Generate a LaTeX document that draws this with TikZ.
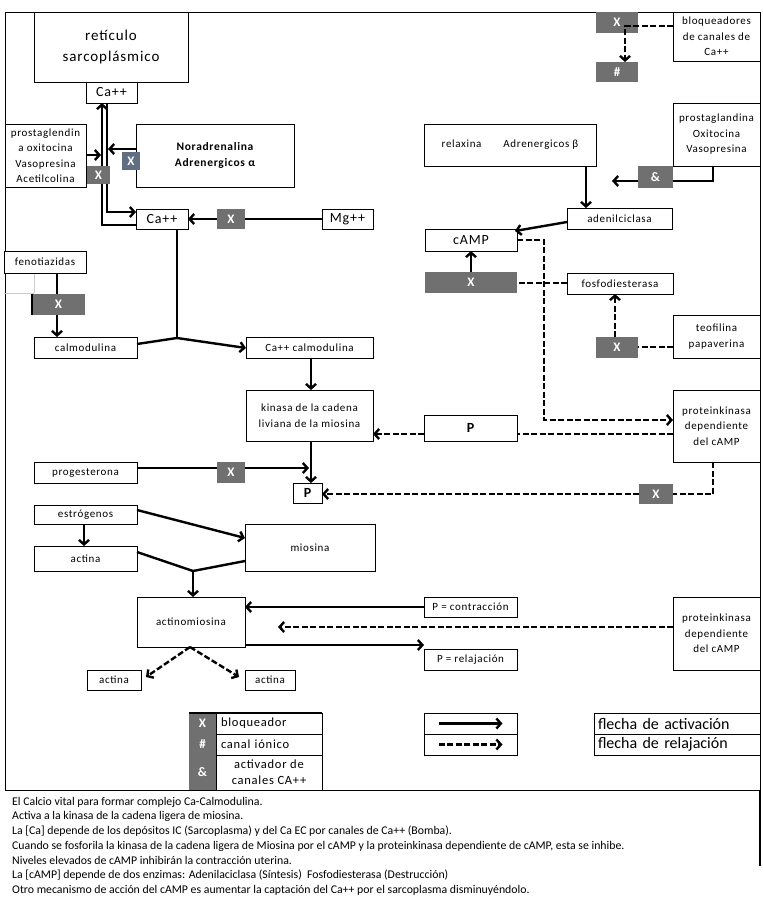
\documentclass[tikz,border=0pt]{standalone}
\usepackage{fontspec}
\setmainfont{Carlito}[LetterSpace=6]
\newfontfamily\plainf{Carlito}
\usetikzlibrary{arrows.meta}
\definecolor{gboxc}{RGB}{112,112,112}
\definecolor{sboxc}{RGB}{96,110,130}
\newcommand\lbl{\fontsize{11}{15.5}\selectfont}
\newcommand\lblL{\fontsize{14}{16}\selectfont}
\tikzset{
  box/.style={draw, line width=0.8pt, fill=white, inner sep=0pt, outer sep=0pt, align=center, font=\lbl},
  gb/.style={fill=gboxc, draw=none, text=white, font=\fontsize{13}{14}\selectfont\bfseries},
  act/.style={line width=2.4pt, -{Straight Barb[length=4.5pt,width=10pt]}},
  ln/.style={line width=2.4pt},
  rel/.style={act, dash pattern=on 6pt off 2.5pt},
  reln/.style={ln, dash pattern=on 6pt off 2.5pt},
  frame/.style={line width=0.9pt},
  btxt/.style={anchor=west, inner sep=0pt, font=\plainf\fontsize{11.8}{13}\selectfont},
}
\newcommand\bx[7][]{\node[box,#1,minimum width={(#4-#2)*1pt},minimum height={(#5-#3)*1pt}] (#6) at ({(#2+#4)/2},{(#3+#5)/2}) {#7};}
\begin{document}
\begin{tikzpicture}[x=1pt,y=-1pt]
\useasboundingbox (0,0) rectangle (763,900);
\fill[white] (0,0) rectangle (763,900);
% frame
\draw[frame] (5,12) rectangle (760,790);
\draw[line width=1.6pt] (760,790) -- (760,866);
\draw[black!20, line width=0.6pt] (34,273) -- (34,293) (4,293) -- (34,293);

% ---- nodes
\bx[font=\fontsize{15}{21}\selectfont]{34}{12}{188}{82}{ret}{retículo\\sarcoplásmico}
\bx[font=\lblL]{86}{82}{137}{103}{caA}{Ca++}
\bx{5}{124}{86}{187}{prosL}{prostaglendin\\a oxitocina\\Vasopresina\\Acetilcolina}
\bx[font=\fontsize{11.5}{16.5}\selectfont\bfseries]{136}{124}{294}{187}{nor}{Noradrenalina\\Adrenergicos α}
\bx[gb,fill=sboxc]{122}{152}{140}{170}{xNor}{X}
\bx[font=\lblL]{136}{209}{188}{229}{caB}{Ca++}
\bx[gb]{217}{209}{245}{229}{xMg}{X}
\bx[font=\lblL]{322}{209}{373}{229}{mg}{Mg++}

\bx[gb]{596}{12}{638}{33}{xBl}{X}
\bx[gb]{596}{62}{638}{82}{hash}{\#}
\bx{673}{12}{760}{61}{bloq}{bloqueadores\\de canales de\\Ca++}
\bx{673}{103}{760}{166}{prosR}{prostaglandina\\Oxitocina\\Vasopresina}
\bx[gb]{638}{166}{673}{188}{amp}{\&}
\bx{424}{124}{596}{166}{relax}{relaxina\hspace{22pt}Adrenergicos β}
\bx{567}{208}{672}{229}{aden}{adenilciclasa}
\bx[font=\lblL]{425}{229}{517}{251}{camp}{cAMP}
\bx[gb]{425}{272}{517}{293}{xCamp}{X}
\bx{567}{273}{673}{294}{fosfo}{fosfodiesterasa}
\bx{673}{315}{760}{358}{teo}{teofilina\\papaverina}
\bx[gb]{596}{337}{638}{358}{xTeo}{X}
\bx{673}{390}{760}{462}{pkA}{proteinkinasa\\dependiente\\del cAMP}
\bx[font=\lblL\bfseries]{424}{415}{517}{441}{pMid}{P}
\bx[gb]{639}{484}{673}{504}{xPk}{X}
\bx[font=\lblL\bfseries]{293}{483}{322}{503}{pSm}{P}

\bx{4}{251}{86}{273}{feno}{fenotiazidas}
\bx[gb]{32}{294}{85}{315}{xFeno}{X}
\draw[line width=1.5pt] (xFeno.north west) -- (xFeno.south west);
\bx{34}{337}{137}{358}{calm}{calmodulina}
\bx{246}{337}{373}{358}{cacalm}{Ca++ calmodulina}
\bx{246}{390}{373}{441}{kin}{kinasa de la cadena\\liviana de la miosina}
\bx{34}{462}{137}{483}{prog}{progesterona}
\bx[gb]{217}{462}{245}{483}{xProg}{X}

\bx{34}{505}{137}{524}{estr}{estrógenos}
\bx{34}{546}{137}{571}{actA}{actina}
\bx{245}{524}{375}{571}{mios}{miosina}
\bx{137}{597}{245}{647}{actm}{actinomiosina}
\bx{424}{597}{517}{617}{pc}{P = contracción}
\bx{424}{649}{517}{670}{pr}{P = relajación}
\bx{673}{597}{760}{670}{pkB}{proteinkinasa\\dependiente\\del cAMP}
\bx{87}{670}{141}{690}{actB}{actina}
\bx{245}{670}{295}{690}{actC}{actina}

% ---- legend
\bx[gb]{189}{713}{216}{734}{lgX}{X}
\bx[gb]{189}{734}{216}{755}{lgH}{\#}
\bx[gb]{189}{755}{216}{790}{lgA}{\&}
\bx[font=\fontsize{12.5}{15.5}\selectfont, text width=100pt, align=left]{216}{713}{322}{734}{lgT1}{\hspace*{2pt}bloqueador}
\bx[font=\fontsize{12.5}{15.5}\selectfont, text width=100pt, align=left]{216}{734}{322}{755}{lgT2}{\hspace*{2pt}canal iónico}
\bx[font=\fontsize{12.5}{16}\selectfont]{216}{755}{322}{790}{lgT3}{activador de\\canales CA++}
\draw[line width=1.8pt] (lgX.north west) -- (lgT1.north east);
\bx{424}{713}{517}{734}{lgArA}{}
\bx{424}{734}{517}{755}{lgArB}{}
\bx[font=\plainf\fontsize{16}{17}\selectfont, text width=160pt, align=left]{594}{713}{760}{734}{lgLA}{\hspace*{1pt}flecha de activación}
\bx[font=\plainf\fontsize{16}{17}\selectfont, text width=160pt, align=left]{594}{734}{760}{755}{lgLB}{\hspace*{1pt}flecha de relajación}
\draw[act] ([xshift=-32pt]lgArA.center) -- ([xshift=32pt]lgArA.center);
\draw[rel] ([xshift=-32pt]lgArB.center) -- ([xshift=32pt]lgArB.center);

% ---- connectors (upper left)
\draw[act] (caB.west |- 0,225) -| (caA.south -| 102,0);
\draw[act] (caA.south -| 107,0) |- (caB.west |- 0,212);
\coordinate (jP) at (101,155);
\coordinate (jN) at (108,149);
\draw[act] (prosL.east |- 0,155) -- (jP);
\draw[act] (nor.west |- 0,149) -- (jN);
\bx[gb]{87}{166}{110}{184}{xProsL}{X}
\draw[ln] (mg.west) -- (xMg.east);
\draw[act] (xMg.west) -- (caB.east);

% ---- upper right
\draw[rel] (bloq.west |- 0,26) -| (hash.north -| 625,0);
\draw[ln] (prosR.south -| 713,0) |- (amp.east |- 0,181);
\coordinate (jA) at (612,181);
\draw[act] (amp.west |- 0,181) -- (jA);
\draw[act] (relax.south -| 586,0) -- (aden.north -| 586,0);
\draw[act] (aden.west |- 0,222) -- ([xshift=-2pt,yshift=-2pt]camp.north east);
\draw[act] (xCamp.north -| 471,0) -- (camp.south -| 471,0);
\coordinate (jK) at (544,420);
\draw[rel] (camp.east |- 0,240) -| (jK) -- (pkA.west |- jK);
\draw[reln] (fosfo.west |- 0,283) -- (xCamp.east |- 0,283);
\draw[reln] (teo.west |- 0,347) -- (xTeo.east |- 0,347);
\draw[rel] (xTeo.north -| 615,0) -- (fosfo.south -| 615,0);
\draw[reln] (pkA.west |- 0,434) -- (pMid.east |- 0,434);
\draw[rel] (pMid.west |- 0,434) -- (kin.east |- 0,434);
\draw[reln] (pkA.south -| 713,0) |- (xPk.east |- 0,494);
\draw[rel] (xPk.west |- 0,494) -- (pSm.east |- 0,494);

% ---- middle left
\coordinate (jC) at (177,338);
\draw[ln] (caB.south -| 177,0) -- (jC);
\draw[ln] (jC) -- (calm.east |- 0,344);
\draw[act] (jC) -- (cacalm.west |- 0,348);
\draw[ln] (feno.south -| 57,0) -- (xFeno.north -| 57,0);
\draw[act] (xFeno.south -| 57,0) -- (calm.north -| 57,0);
\draw[act] (cacalm.south -| 311,0) -- (kin.north -| 311,0);
\draw[act] (kin.south -| 311,0) -- (pSm.north -| 311,0);
\draw[ln] (prog.east |- 0,468) -- (xProg.west |- 0,468);
\coordinate (jG) at (309,468);
\draw[act] (xProg.east |- 0,468) -- (jG);

% ---- lower
\draw[act] (estr.south -| 84,0) -- (actA.north -| 84,0);
\draw[act] (estr.east |- 0,510) -- (mios.west |- 0,538);
\coordinate (jM) at (193,571);
\draw[ln] (actA.east |- 0,552) -- (jM) -- (mios.west |- 0,561);
\draw[act] (jM) -- (actm.north -| jM);
\draw[act] (pc.west) -- (actm.east |- pc.west);
\coordinate (jR) at (278,627);
\draw[rel] (pkB.west |- jR) -- (jR);
\draw[act] (actm.east |- 0,645) -- (pr.north west |- 0,645);
\draw[rel] (actm.south -| 190,0) -- ([xshift=5pt,yshift=-7pt]actB.north east);
\draw[rel] (actm.south -| 190,0) -- ([xshift=-6pt,yshift=-7pt]actC.north west);

% ---- bottom notes
\node[btxt] (n1) at (12,802) {El Calcio vital para formar complejo Ca-Calmodulina.};
\node[btxt] (n2) at (12,816.7) {Activa a la kinasa de la cadena ligera de miosina.};
\node[btxt] (n3) at (12,831.4) {La [Ca] depende de los depósitos IC (Sarcoplasma) y del Ca EC por canales de Ca++ (Bomba).};
\node[btxt] (n4) at (12,846.1) {Cuando se fosforila la kinasa de la cadena ligera de Miosina por el cAMP y la proteinkinasa dependiente de cAMP, esta se inhibe.};
\node[btxt] (n5) at (12,860.8) {Niveles elevados de cAMP inhibirán la contracción uterina.};
\node[btxt] (n6) at (12,875.5) {La [cAMP] depende de dos enzimas: Adenilaciclasa (Síntesis)\ \ Fosfodiesterasa (Destrucción)};
\node[btxt] (n7) at (12,890.2) {Otro mecanismo de acción del cAMP es aumentar la captación del Ca++ por el sarcoplasma disminuyéndolo.};
\end{tikzpicture}
\end{document}
